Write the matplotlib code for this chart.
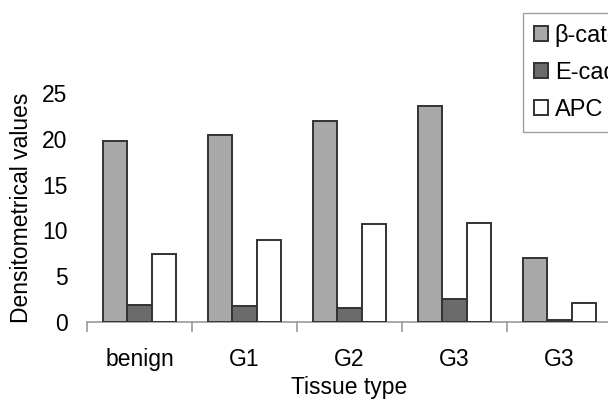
import numpy as np
import matplotlib
matplotlib.use("Agg")
import matplotlib.pyplot as plt

plt.rcParams['font.family'] = ['Liberation Sans', 'DejaVu Sans']

# data
tissues = ['benign', 'G1', 'G2', 'G3', 'G3']
series = ['β-catenin', 'E-cadherin', 'APC']
beta_cat = [19.8, 20.4, 21.9, 23.6, 7.0]
e_cad = [1.9, 1.75, 1.5, 2.5, 0.2]
apc = [7.4, 8.9, 10.7, 10.8, 2.1]
colors = ['#a9a9a9', '#6b6b6b', '#ffffff']

fs = 16.5
fig = plt.figure(figsize=(6.08, 4.03), dpi=100)
ax = fig.add_axes([87/608, 1 - 322/403, 525/608, (322 - 93)/403])

x = np.arange(len(tissues))
w = 0.23
for i, (vals, c) in enumerate(zip([beta_cat, e_cad, apc], colors)):
    ax.bar(x + (i - 1) * w, vals, w, color=c, edgecolor='#333333',
           linewidth=1.4, label=series[i], zorder=3)

ax.set_xlim(-0.5, len(tissues) - 0.5)
ax.set_ylim(0, 25)
ax.set_yticks([0, 5, 10, 15, 20, 25])

for s in ['top', 'right', 'left']:
    ax.spines[s].set_visible(False)
ax.spines['bottom'].set_color('#999999')
ax.spines['bottom'].set_linewidth(1.2)

ax.set_xticks(x)
ax.set_xticklabels(tissues, fontsize=fs)
ax.tick_params(axis='x', length=0, pad=19)
ax.set_xticks(np.arange(len(tissues) + 1) - 0.5, minor=True)
ax.tick_params(axis='x', which='minor', length=7, color='#999999', width=1.2)
ax.tick_params(axis='y', length=0, labelsize=fs, pad=14)

ax.set_xlabel('Tissue type', fontsize=fs, labelpad=3)
ax.set_ylabel('Densitometrical values', fontsize=fs)
ax.yaxis.set_label_coords(-54/525, 0.5)

fig.legend(loc='upper left', bbox_to_anchor=(523/608, 1 - 13/403),
           fontsize=fs + 0.5, frameon=True, fancybox=False, edgecolor='#888888',
           handlelength=0.6, handleheight=0.6, handletextpad=0.3,
           labelspacing=0.65, borderpad=0.45, borderaxespad=0)

fig.savefig('out.png', dpi=100)
